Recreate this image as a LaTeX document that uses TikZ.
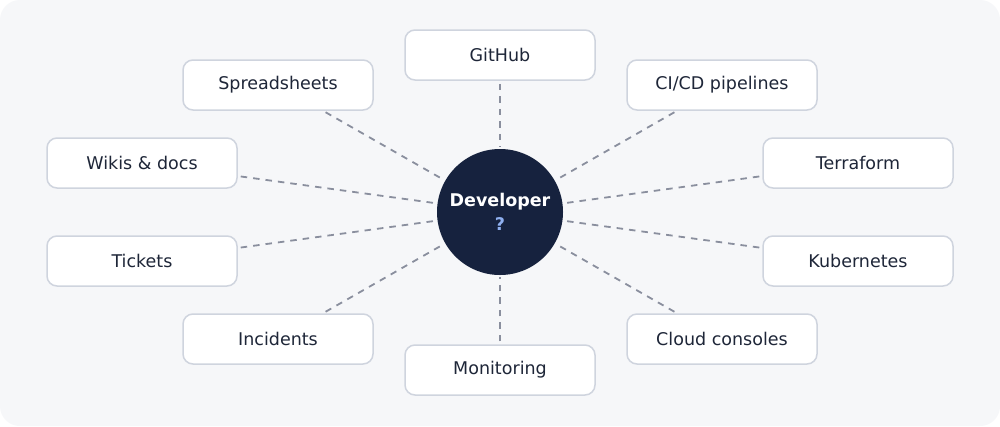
\documentclass[tikz,border=0pt]{standalone}
\usepackage{fontspec}
\setmainfont{DejaVu Sans}
\definecolor{bgc}{HTML}{F6F7F9}
\definecolor{boxline}{HTML}{CFD4DE}
\definecolor{txt}{HTML}{1E2638}
\definecolor{navy}{HTML}{16223E}
\definecolor{qblue}{HTML}{8FB0F0}
\definecolor{dashc}{HTML}{8A8F9E}
\tikzset{
  tool/.style={draw=boxline, line width=1.5pt, fill=white, rounded corners=10pt,
    minimum width=190pt, minimum height=50pt, inner sep=0pt, text=txt,
    font=\fontsize{17.5}{21}\selectfont},
  hub/.style={circle, fill=navy, minimum size=126pt, inner sep=0pt, align=center,
    font=\fontsize{17.5}{24}\selectfont\bfseries, text=white},
  link/.style={draw=dashc, line width=1.8pt, dash pattern=on 6.5pt off 6pt}
}
\begin{document}
\begin{tikzpicture}[x=1pt,y=-1pt]
\useasboundingbox (0,0) rectangle (1000,426);
\fill[white] (0,0) rectangle (1000,426);
\fill[bgc, rounded corners=20pt] (0,0) rectangle (1000,426);
\node[hub] (dev) at (500,212) {Developer\\[0pt]\textcolor{qblue}{?}};
\node[tool] (gh) at (500,55) {GitHub};
\node[tool] (mon) at (500,370) {Monitoring};
\node[tool] (ss) at (278,85) {Spreadsheets};
\node[tool] (ci) at (722,85) {CI/CD pipelines};
\node[tool] (wiki) at (142,163) {Wikis \& docs};
\node[tool] (tf) at (858,163) {Terraform};
\node[tool] (tk) at (142,261) {Tickets};
\node[tool] (k8s) at (858,261) {Kubernetes};
\node[tool] (inc) at (278,339) {Incidents};
\node[tool] (cc) at (722,339) {Cloud consoles};
\foreach \n in {gh,mon,ss,ci,wiki,tf,tk,k8s,inc,cc}
  \draw[link, shorten <=3pt, shorten >=2pt] (\n) -- (dev);
\end{tikzpicture}
\end{document}
